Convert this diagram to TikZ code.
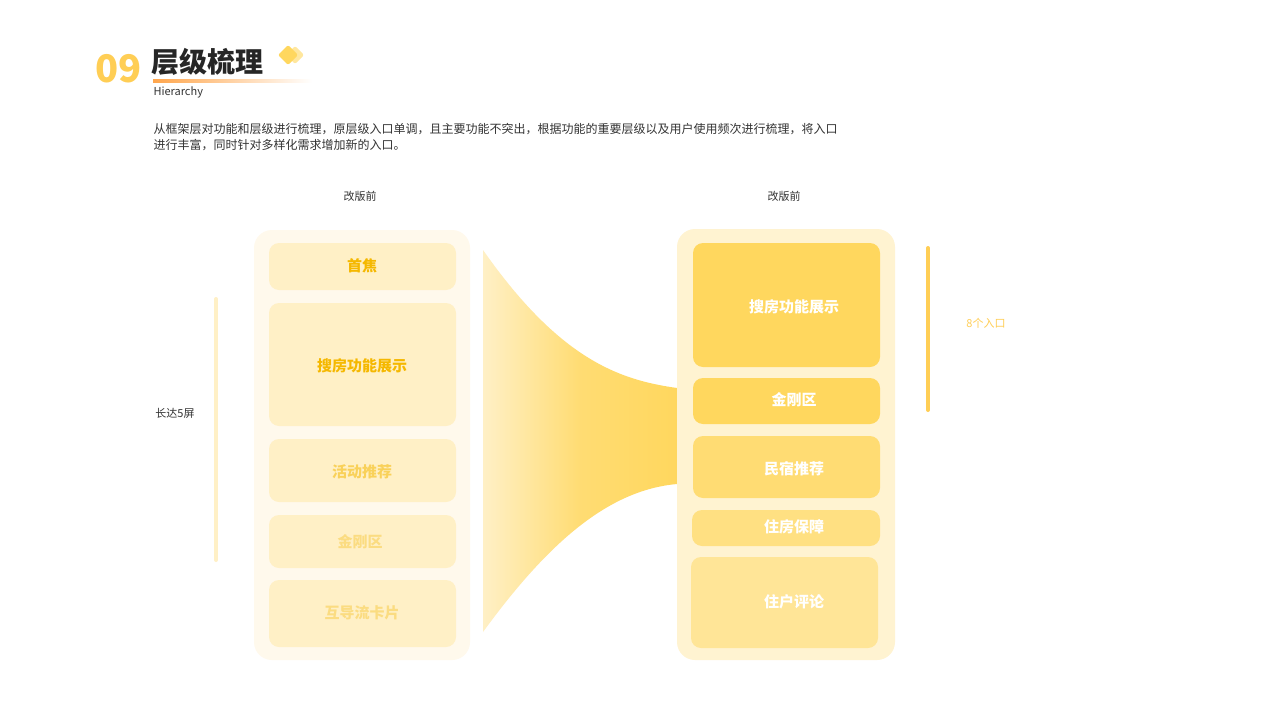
\documentclass[tikz,border=0pt]{standalone}
\usepackage{fontspec}
\setmainfont{Noto Sans CJK SC}
\usetikzlibrary{shadings}

\definecolor{ygold}{HTML}{FFD75E}
\definecolor{ypale}{HTML}{FFF0C6}
\definecolor{yback}{HTML}{FFF9EC}
\definecolor{ytext}{HTML}{F5B800}

\begin{document}
\begin{tikzpicture}[x=1pt,y=-1pt,
  panel/.style={fill=#1,rounded corners=18pt},
  card/.style={fill=#1,rounded corners=10pt},
  lbl/.style={font=\fontsize{15}{15}\selectfont\bfseries}]

% Canvas
\useasboundingbox[fill=white] (0,0) rectangle (1280,720);

% Title block
\node[anchor=west,font=\fontsize{38}{38}\selectfont\bfseries,text=ygold!90!orange] (num) at (92,69) {09};
\node[anchor=west,font=\fontsize{28}{28}\selectfont\bfseries,text=black!85] (title) at (148,62) {层级梳理};
\shade[left color=orange!70,right color=white] (153,79) rectangle (312,82);
\node[anchor=west,font=\fontsize{11}{11}\selectfont,text=black!80] (sub) at (150,92) {Hierarchy};
\fill[ygold!60,rounded corners=2pt] (295,46) -- (304,55) -- (295,64) -- (286,55) -- cycle;
\fill[ygold,rounded corners=2pt] (288,45) -- (298,55) -- (288,65) -- (278,55) -- cycle;
\node[anchor=north west,align=left,font=\fontsize{12}{16}\selectfont,text=black!80] (desc) at (150,120)
  {从框架层对功能和层级进行梳理，原层级入口单调，且主要功能不突出，根据功能的重要层级以及用户使用频次进行梳理，将入口\\进行丰富，同时针对多样化需求增加新的入口。};

% Column headings
\node[font=\fontsize{11}{11}\selectfont,text=black!80] (hleft) at (360,196) {改版前};
\node[font=\fontsize{11}{11}\selectfont,text=black!80] (hright) at (784,196) {改版前};

% Old layout
\fill[panel=yback] (254,230) rectangle (470,660);
\fill[card=ypale] (269,243) rectangle (456,290);
\fill[card=ypale] (269,303) rectangle (456,426);
\fill[card=ypale] (269,439) rectangle (456,502);
\fill[card=ypale] (269,515) rectangle (456,568);
\fill[card=ypale] (269,580) rectangle (456,647);
\node[lbl,text=ytext] (o1) at (362,266) {首焦};
\node[lbl,text=ytext] (o2) at (362,366) {搜房功能展示};
\node[lbl,text=ytext!55!ypale] (o3) at (362,472) {活动推荐};
\node[lbl,text=ytext!35!ypale] (o4) at (360,542) {金刚区};
\node[lbl,text=ytext!35!ypale] (o5) at (362,613) {互导流卡片};

% Funnel
\shade[left color=ypale,right color=ygold,middle color=ygold!80!ypale]
  (483,250) .. controls (560,360) and (620,380) .. (677,388)
  -- (677,484) .. controls (610,490) and (550,540) .. (483,632) -- cycle;

% New layout
\fill[panel=ypale!80!white] (677,229) rectangle (895,660);
\fill[card=ygold] (693,243) rectangle (880,367);
\fill[card=ygold] (693,378) rectangle (880,424);
\fill[card=ygold!80!ypale] (693,436) rectangle (880,498);
\fill[card=ygold!65!ypale] (692,510) rectangle (880,546);
\fill[card=ygold!45!ypale] (691,557) rectangle (878,648);
\node[lbl,text=white] (n1) at (794,307) {搜房功能展示};
\node[lbl,text=white] (n2) at (794,400) {金刚区};
\node[lbl,text=white] (n3) at (794,469) {民宿推荐};
\node[lbl,text=white] (n4) at (794,527) {住房保障};
\node[lbl,text=white] (n5) at (794,602) {住户评论};

% Side markers
\draw[ypale,line width=4pt,line cap=round] (216,299) -- (216,560);
\node[font=\fontsize{11}{11}\selectfont,text=black!80] (len) at (175,413) {长达5屏};
\draw[ygold!90!orange,line width=4pt,line cap=round] (928,248) -- (928,410);
\node[font=\fontsize{11}{11}\selectfont,text=ygold!90!orange] (cnt) at (986,323) {8个入口};
\end{tikzpicture}
\end{document}
